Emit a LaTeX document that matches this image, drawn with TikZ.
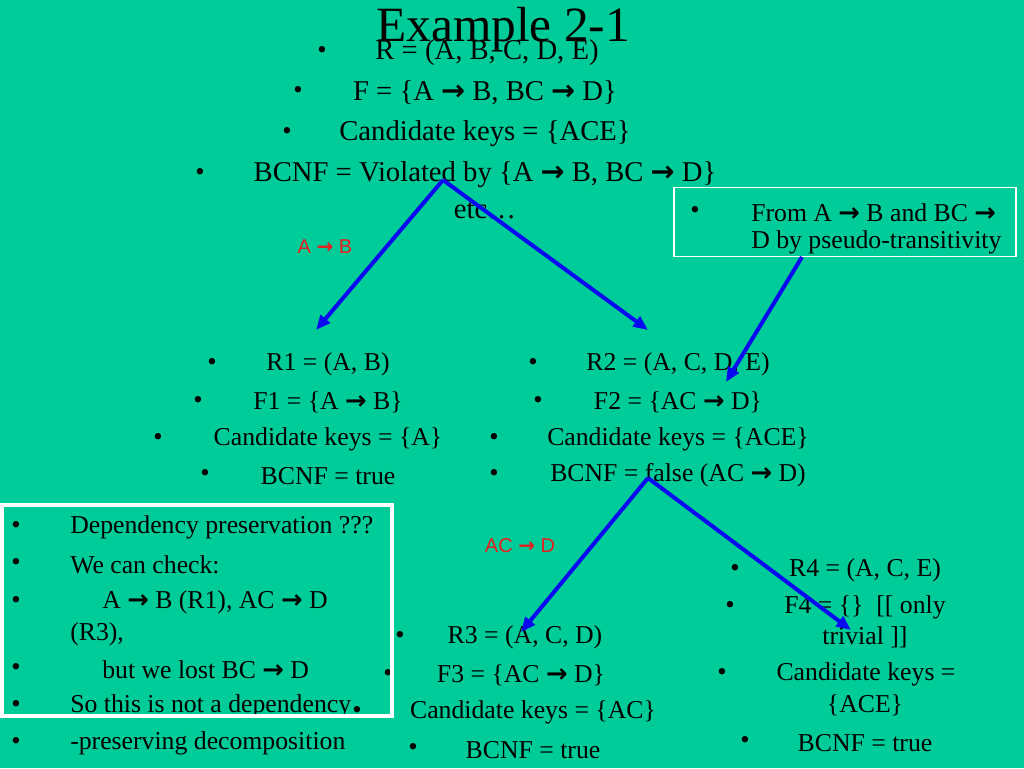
\documentclass[tikz,border=0pt]{standalone}
\usepackage{fontspec}
\setmainfont{Liberation Serif}
\newfontfamily\labfont{Liberation Sans}
\newfontfamily\arrfont{DejaVu Sans}
\newcommand\fdto{{\arrfont\bfseries →}}
\usetikzlibrary{arrows.meta}
\definecolor{slide}{RGB}{0,204,153}
\definecolor{fdblue}{RGB}{10,10,240}
\definecolor{fdred}{RGB}{230,30,30}

\begin{document}
\begin{tikzpicture}[x=0.75pt,y=-0.75pt]
\tikzstyle{txt}=[inner sep=0pt,yshift=-2pt,font=\fontsize{19.3}{24}\selectfont]
\tikzstyle{head}=[inner sep=0pt,yshift=-2pt,font=\fontsize{21.5}{24}\selectfont]
\tikzstyle{dot}=[inner sep=0pt,yshift=-2pt,font=\fontsize{20}{24}\selectfont]
\tikzstyle{lab}=[inner sep=0pt,text=fdred,font=\labfont\fontsize{15}{18}\selectfont]
\tikzstyle{split}=[draw=fdblue,line width=3pt,-{Triangle[length=11pt,width=9pt]}]

\fill[slide] (0,0) rectangle (1024,768);

\node[inner sep=0pt,font=\fontsize{37}{40}\selectfont] (title) at (503,30) {Example 2-1};

\node[dot] (d1) at (322,50) {•};
\node[head] (R) at (487,50) {R = (A, B, C, D, E)};
\node[dot] (d2) at (298,90) {•};
\node[head] (F) at (485,90) {F = \{A \fdto\ B, BC \fdto\ D\}};
\node[dot] (d3) at (287,131) {•};
\node[head] (K) at (485,131) {Candidate keys = \{ACE\}};
\node[dot] (d4) at (200,172) {•};
\node[head] (N) at (485,172) {BCNF = Violated by \{A \fdto\ B, BC \fdto\ D\}};
\node[head] (etc) at (485,208) {etc…};

\node[draw=white,line width=1pt,minimum width=342*0.75pt,minimum height=69*0.75pt,inner sep=0pt] (hint) at (845,222) {};
\node[dot] (d5) at (695,210) {•};
\node[txt,anchor=west] (hint1) at (751,210) {From A \fdto\ B and BC \fdto};
\node[txt,anchor=west] (hint2) at (751,240) {D by pseudo-transitivity};

\node[lab] (l1) at (325,247) {A \fdto\ B};
\node[lab] (l2) at (520,546) {AC \fdto\ D};

\node[dot] (d6) at (212,362) {•};
\node[txt] (R1) at (328,362) {R1 = (A, B)};
\node[dot] (d7) at (198,400) {•};
\node[txt] (F1) at (328,400) {F1 = \{A \fdto\ B\}};
\node[dot] (d8) at (158,437) {•};
\node[txt] (K1) at (328,437) {Candidate keys = \{A\}};
\node[dot] (d9) at (205,473) {•};
\node[txt] (N1) at (328,473) {BCNF = true};

\node[dot] (d10) at (533,362) {•};
\node[txt] (R2) at (678,362) {R2 = (A, C, D, E)};
\node[dot] (d11) at (538,400) {•};
\node[txt] (F2) at (678,400) {F2 = \{AC \fdto\ D\}};
\node[dot] (d12) at (494,437) {•};
\node[txt] (K2) at (678,437) {Candidate keys = \{ACE\}};
\node[dot] (d13) at (494,473) {•};
\node[txt] (N2) at (678,473) {BCNF = false (AC \fdto\ D)};

\node[dot] (d14) at (400,635) {•};
\node[txt] (R3) at (525,635) {R3 = (A, C, D)};
\node[dot] (d15) at (388,673) {•};
\node[txt] (F3) at (521,673) {F3 = \{AC \fdto\ D\}};
\node[dot] (d16) at (357,710) {•};
\node[txt] (K3) at (533,710) {Candidate keys = \{AC\}};
\node[dot] (d17) at (413,747) {•};
\node[txt] (N3) at (533,747) {BCNF = true};

\node[dot] (d18) at (735,568) {•};
\node[txt] (R4) at (865,568) {R4 = (A, C, E)};
\node[dot] (d19) at (730,605) {•};
\node[txt] (F4) at (865,605) {F4 = \{\}~~[[ only};
\node[txt] (F4b) at (865,635) {trivial ]]};
\node[dot] (d20) at (722,672) {•};
\node[txt] (K4) at (866,672) {Candidate keys =};
\node[txt] (K4b) at (865,703) {\{ACE\}};
\node[dot] (d21) at (745,740) {•};
\node[txt] (N4) at (865,740) {BCNF = true};

\node[dot] (d22) at (16,525) {•};
\node[txt,anchor=west] (P1) at (70,525) {Dependency preservation ???};
\node[dot] (d23) at (16,562) {•};
\node[txt,anchor=west] (P2) at (70,562) {We can check:};
\node[dot] (d24) at (16,600) {•};
\node[txt,anchor=west] (P3) at (102,600) {A \fdto\ B (R1), AC \fdto\ D};
\node[txt,anchor=west] (P3b) at (70,632) {(R3),};
\node[dot] (d25) at (16,667) {•};
\node[txt,anchor=west] (P4) at (102,667) {but we lost BC \fdto\ D};
\node[dot] (d26) at (16,704) {•};
\node[txt,anchor=west] (P5) at (70,704) {So this is not a dependency};
\node[dot] (d27) at (16,741) {•};
\node[txt,anchor=west] (P6) at (70,741) {-preserving decomposition};

\draw[white,line width=3pt] (2,505) rectangle (392,716);

\coordinate (top) at (443,180);
\coordinate (mid) at (648,478);
\coordinate (hintfoot) at (802,257);
\coordinate (toR1) at (316,330);
\coordinate (toR2) at (648,330);
\coordinate (toF2) at (726,382);
\coordinate (toR3) at (521,632);
\coordinate (toR4) at (851,630);

\draw[split] (top) -- (toR1);
\draw[split] (top) -- (toR2);
\draw[split] (hintfoot) -- (toF2);
\draw[split] (mid) -- (toR3);
\draw[split] (mid) -- (toR4);
\end{tikzpicture}
\end{document}
